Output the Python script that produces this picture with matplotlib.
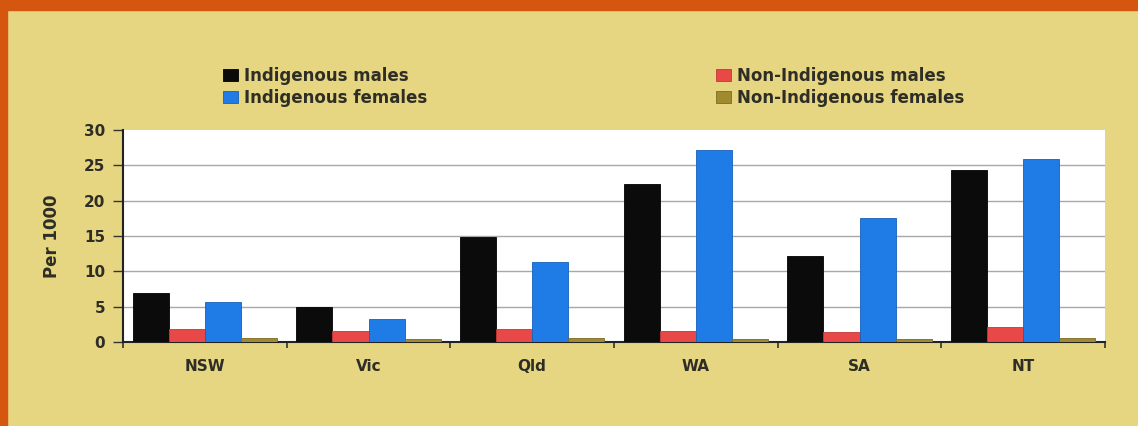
import matplotlib
matplotlib.use("Agg")
import matplotlib.pyplot as plt
from matplotlib.patches import Rectangle
import numpy as np

states = ["NSW", "Vic", "Qld", "WA", "SA", "NT"]
indig_males = [6.9, 4.9, 14.8, 22.3, 12.2, 24.4]
nonindig_males = [1.8, 1.5, 1.8, 1.5, 1.4, 2.1]
indig_females = [5.6, 3.2, 11.3, 27.1, 17.6, 25.9]
nonindig_females = [0.6, 0.4, 0.6, 0.4, 0.4, 0.6]
yticks = [0, 5, 10, 15, 20, 25, 30]

series = [
    ("Indigenous males", indig_males, "#0b0b0b", "#000000"),
    ("Non-Indigenous males", nonindig_males, "#E84848", "#c03838"),
    ("Indigenous females", indig_females, "#1F7BE6", "#1660b8"),
    ("Non-Indigenous females", nonindig_females, "#A08A30", "#7a6a25"),
]

BG = "#E6D681"
ORANGE = "#D4560F"

fig = plt.figure(figsize=(11.38, 4.26), dpi=100, facecolor=BG)
ax = fig.add_axes([123/1138, 1-342/426, (1105-123)/1138, (342-130)/426])
ax.set_facecolor("white")

x = np.arange(len(states))
w = 0.22
handles = {}
for i, (name, vals, col, ec) in enumerate(series):
    b = ax.bar(x + (i - 1.5) * w, vals, width=w, color=col, edgecolor=ec,
               linewidth=0.6, label=name, zorder=3)
    handles[name] = b

ax.set_xlim(-0.5, len(states) - 0.5)
ax.set_ylim(0, 30)
ax.set_yticks(yticks)
ax.yaxis.grid(True, color="#a8a8a8", linewidth=1.0, zorder=0)
ax.set_axisbelow(True)
gl = ax.yaxis.get_gridlines()
gl[-1].set_visible(False)
for s in ["top", "right"]:
    ax.spines[s].set_visible(False)
for s in ["left", "bottom"]:
    ax.spines[s].set_color("#222222")
    ax.spines[s].set_linewidth(1.5)

ax.set_xticks(x)
ax.set_xticklabels(states, fontsize=11, fontweight="bold", color="#2e2e26",
                   family="DejaVu Sans")
ax.tick_params(axis="x", which="major", length=0, pad=12)
ax.set_xticks(np.arange(-0.5, len(states), 1.0), minor=True)
ax.tick_params(axis="x", which="minor", length=4, width=1.2, color="#333333",
               direction="out")
ax.tick_params(axis="y", length=7, width=1.0, color="#333333", pad=6)
for lab in ax.get_yticklabels():
    lab.set_fontsize(11)
    lab.set_fontweight("bold")
    lab.set_color("#2e2e26")

fig.text(52/1138, 1-236/426, "Per 1000", rotation=90, ha="center", va="center",
         fontsize=12, fontweight="bold", color="#2e2e26",
         family=["Liberation Sans Narrow", "DejaVu Sans"])

leg_kw = dict(frameon=False, handlelength=0.9, handleheight=0.8,
              handletextpad=0.4, labelspacing=0.25, borderaxespad=0,
              prop={"size": 12, "weight": "bold", "family": "DejaVu Sans"})
l1 = fig.legend([handles["Indigenous males"], handles["Indigenous females"]],
                ["Indigenous males", "Indigenous females"],
                loc="upper left", bbox_to_anchor=(216/1138, 1-60/426), **leg_kw)
l2 = fig.legend([handles["Non-Indigenous males"], handles["Non-Indigenous females"]],
                ["Non-Indigenous males", "Non-Indigenous females"],
                loc="upper left", bbox_to_anchor=(709/1138, 1-60/426), **leg_kw)
for l in (l1, l2):
    for t in l.get_texts():
        t.set_color("#2e2e26")

fig.patches.append(Rectangle((0, 0), 7/1138, 1, transform=fig.transFigure,
                             color=ORANGE, zorder=10))
fig.patches.append(Rectangle((0, 1-10/426), 1, 10/426, transform=fig.transFigure,
                             color=ORANGE, zorder=10))

fig.savefig("out.png", dpi=100, facecolor=BG)
